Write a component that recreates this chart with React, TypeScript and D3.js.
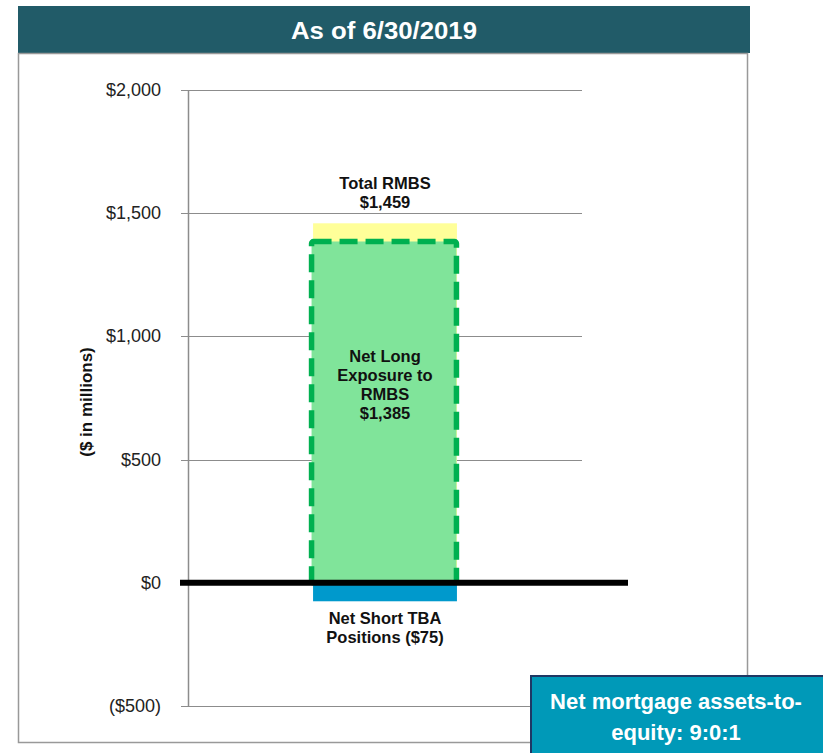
import * as d3 from 'd3';

// values ($ in millions)
const categories = ['6/30/2019'];
const totalRmbs = [1459];
const netLong = [1385];
const netShortTba = [-75];
const yTicks = [-500, 0, 500, 1000, 1500, 2000];

const W = 823;
const H = 753;
const font = 'Arial, "Liberation Sans", sans-serif';

const fmt = (v: number) => {
  const s = '$' + d3.format(',')(Math.abs(v));
  return v < 0 ? `(${s})` : s;
};

export default function App() {
  const y = d3.scaleLinear().domain([-500, 2000]).range([706, 90]);
  const x = d3.scaleBand().domain(categories).range([188, 582]).padding(0.465);
  const cat = categories[0];
  const bx = x(cat) || 0;
  const bw = x.bandwidth();
  const cx = bx + bw / 2;

  return (
    <div style={{ position: 'absolute', left: 0, top: 0 }}>
      <svg width={W} height={H} style={{ display: 'block', background: '#fff' }}>
        {/* header */}
        <rect x={18} y={6} width={732} height={47} fill="#215b68" />
        <text
          x={384} y={39} textAnchor="middle" fill="#fff" fontFamily={font} fontWeight="bold" fontSize={24}
          textLength={186} lengthAdjust="spacingAndGlyphs"
        >
          As of 6/30/2019
        </text>
        {/* frame */}
        <rect x={18.5} y={53.5} width={729} height={689} fill="none" stroke="#999" strokeWidth={1.5} />

        {/* grid + ticks */}
        {yTicks.map(t => (
          <g key={t}>
            <line x1={181} x2={582} y1={Math.round(y(t)) + 0.5} y2={Math.round(y(t)) + 0.5} stroke="#8c8c8c" strokeWidth={1} />
            <text x={161} y={y(t) + 6} textAnchor="end" fontFamily={font} fontSize={18} fill="#222">
              {fmt(t)}
            </text>
          </g>
        ))}
        <line x1={188.5} x2={188.5} y1={y(2000)} y2={y(-500)} stroke="#8c8c8c" strokeWidth={1.5} />

        <text
          transform={`translate(92,${(y(2000) + y(-500)) / 2 + 4}) rotate(-90)`}
          textAnchor="middle" fontFamily={font} fontWeight="bold" fontSize={17} fill="#111"
        >
          ($ in millions)
        </text>

        {/* bars */}
        <rect x={bx} y={y(totalRmbs[0])} width={bw} height={y(0) - y(totalRmbs[0])} fill="#ffff99" />
        <rect
          x={bx - 1.5} y={y(netLong[0])} width={bw + 1} height={y(0) - y(netLong[0])}
          fill="#80e49a" stroke="#00b050" strokeWidth={5.5} strokeDasharray="18,8" rx={2}
        />
        <rect x={bx} y={y(0)} width={bw} height={y(netShortTba[0]) - y(0)} fill="#0099cc" />
        <line x1={180} x2={628} y1={y(0)} y2={y(0)} stroke="#000" strokeWidth={6} />

        {/* labels */}
        <g fontFamily={font} fontWeight="bold" fontSize={16.5} fill="#111" textAnchor="middle">
          <text x={cx} y={y(totalRmbs[0]) - 34}>Total RMBS</text>
          <text x={cx} y={y(totalRmbs[0]) - 15}>{fmt(totalRmbs[0])}</text>
          <text x={cx} y={362}>Net Long</text>
          <text x={cx} y={381}>Exposure to</text>
          <text x={cx} y={400}>RMBS</text>
          <text x={cx} y={419}>{fmt(netLong[0])}</text>
          <text x={cx} y={y(netShortTba[0]) + 23}>Net Short TBA</text>
          <text x={cx} y={y(netShortTba[0]) + 42}>Positions {fmt(netShortTba[0])}</text>
        </g>

        {/* callout */}
        <rect x={531} y={676} width={300} height={90} fill="#0099b8" stroke="#1f3864" strokeWidth={2} />
        <g fontFamily={font} fontWeight="bold" fontSize={22} fill="#fff" textAnchor="middle">
          <text x={676} y={709}>Net mortgage assets-to-</text>
          <text x={676} y={740}>equity: 9:0:1</text>
        </g>
      </svg>
    </div>
  );
}
